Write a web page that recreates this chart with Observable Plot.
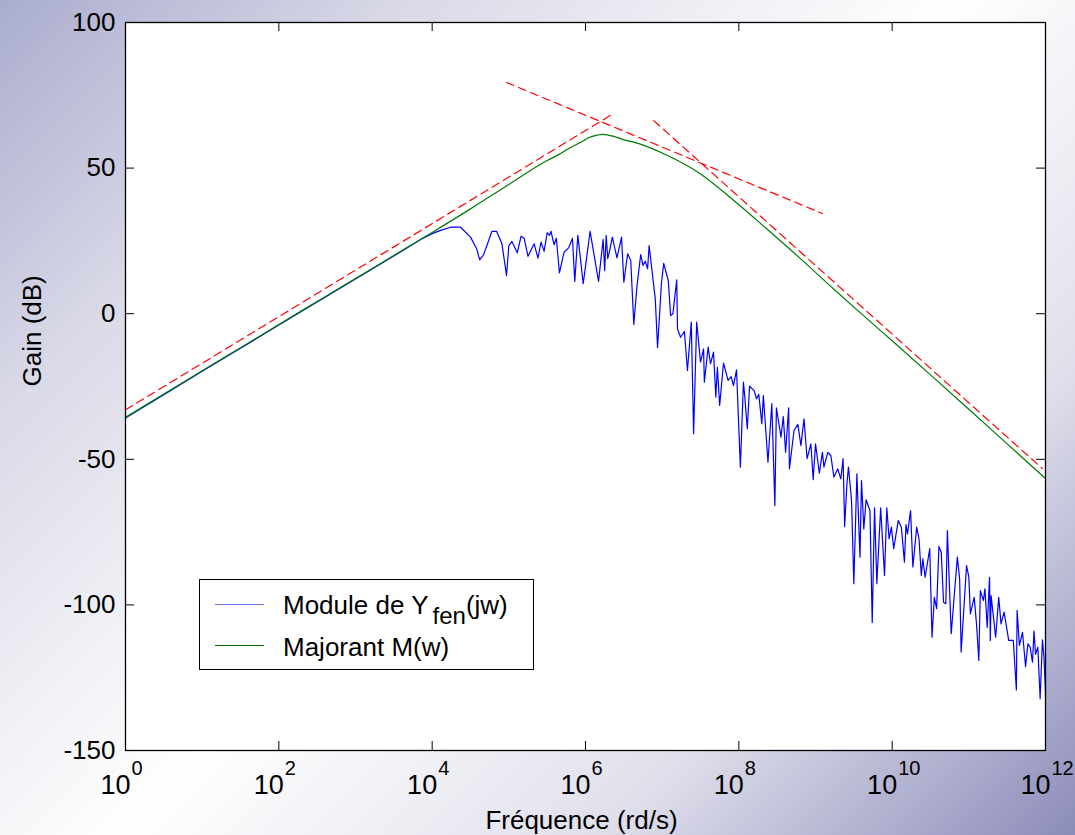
<!DOCTYPE html>
<html>
<head>
<meta charset="utf-8">
<script src="https://cdn.jsdelivr.net/npm/d3@7"></script>
<script src="https://cdn.jsdelivr.net/npm/@observablehq/plot@0.6"></script>
<style>
html, body { margin: 0; padding: 0; }
body { width: 1075px; height: 835px; overflow: hidden; font-family: "Liberation Sans", Arial, sans-serif; }
#wrap {
  position: relative; width: 1075px; height: 835px;
  background: linear-gradient(135deg, #aaacce 0%, #dadae8 22%, #ffffff 50%, #e0e0ec 75%, #8c8cba 100%);
}
#chart svg { display: block; }
#legend {
  position: absolute; left: 199px; top: 579px; width: 335px; height: 91px;
  box-sizing: border-box; background: #fff; border: 1px solid #000;
  font-size: 26px; color: #000; line-height: 26px;
}
#legend .sw { position: absolute; left: 15px; width: 49px; height: 0; }
#legend .lb { position: absolute; left: 83px; white-space: nowrap; }
#legend sub { font-size: 24px; vertical-align: baseline; position: relative; top: 10px; margin-left: 4px; }
</style>
</head>
<body>
<div id="wrap">
  <div id="chart"></div>
  <div id="legend">
    <div class="sw" style="top:24px;border-top:1.5px solid #7070ff;"></div>
    <div class="lb" style="top:12px;">Module de Y<sub>fen</sub>(jw)</div>
    <div class="sw" style="top:65px;border-top:1.5px solid #007000;"></div>
    <div class="lb" style="top:54px;">Majorant M(w)</div>
  </div>
</div>
<script>
// ---- data (frequency given as log10 of w in rd/s, gain in dB) ----
const xTickExponents = [0, 2, 4, 6, 8, 10, 12];
const yTicks = [-150, -100, -50, 0, 50, 100];

// Majorant M(w)
const greenLogW = [0, 0.5, 1, 1.5, 2, 2.5, 3, 3.5, 4, 4.5, 5, 5.5, 5.67, 5.8, 5.94, 6.04, 6.15, 6.22, 6.37, 6.5, 6.63, 7.07, 7.5, 7.935, 8.37, 8.8, 9.24, 9.59, 10, 10.5, 11, 11.5, 12];
const greenGain = [-35.6, -27.6, -19.6, -11.7, -3.7, 4.2, 12.1, 20.0, 27.9, 36.0, 44.4, 52.6, 54.9, 57.0, 58.9, 60.4, 61.3, 61.6, 60.9, 59.7, 58.9, 54.3, 48.0, 38.9, 29.0, 19.0, 8.4, 0.2, -9.3, -21.0, -32.8, -44.7, -56.6];

// Module de Yfen(jw)
const blueLogW = [0, 0.5, 1, 1.5, 2, 2.5, 3, 3.5, 3.85, 4.0, 4.11, 4.24, 4.37, 4.5, 4.58, 4.62, 4.67, 4.78, 4.84, 4.91, 4.97, 5.0, 5.04, 5.11, 5.16, 5.2, 5.25, 5.33, 5.38, 5.42, 5.46, 5.5, 5.53, 5.55, 5.59, 5.62, 5.66, 5.72, 5.78, 5.83, 5.86, 5.9, 5.97, 6.06, 6.17, 6.23, 6.25, 6.27, 6.29, 6.32, 6.35, 6.41, 6.47, 6.5, 6.55, 6.59, 6.63, 6.67, 6.72, 6.75, 6.78, 6.81, 6.83, 6.91, 6.94, 6.99, 7.02, 7.08, 7.11, 7.14, 7.19, 7.2, 7.24, 7.29, 7.33, 7.38, 7.41, 7.45, 7.5, 7.54, 7.55, 7.6, 7.63, 7.67, 7.7, 7.72, 7.75, 7.8, 7.86, 7.9, 7.93, 7.97, 8.02, 8.06, 8.08, 8.11, 8.14, 8.2, 8.23, 8.26, 8.3, 8.32, 8.38, 8.43, 8.47, 8.49, 8.55, 8.58, 8.61, 8.65, 8.66, 8.72, 8.77, 8.81, 8.85, 8.89, 8.94, 8.97, 9.0, 9.05, 9.09, 9.11, 9.16, 9.2, 9.24, 9.29, 9.33, 9.36, 9.38, 9.41, 9.43, 9.47, 9.5, 9.54, 9.58, 9.6, 9.63, 9.66, 9.71, 9.74, 9.77, 9.8, 9.85, 9.9, 9.93, 9.96, 9.99, 10.02, 10.08, 10.12, 10.16, 10.18, 10.2, 10.24, 10.27, 10.32, 10.35, 10.38, 10.4, 10.43, 10.49, 10.52, 10.55, 10.58, 10.61, 10.64, 10.67, 10.7, 10.72, 10.77, 10.85, 10.88, 10.9, 10.97, 11.0, 11.02, 11.07, 11.1, 11.13, 11.15, 11.19, 11.21, 11.24, 11.27, 11.28, 11.29, 11.35, 11.39, 11.42, 11.46, 11.52, 11.58, 11.62, 11.63, 11.66, 11.7, 11.74, 11.77, 11.8, 11.83, 11.85, 11.87, 11.9, 11.93, 11.96, 11.98, 12.0];
const blueGain = [-35.8, -27.8, -19.8, -11.9, -3.9, 4.0, 11.9, 19.8, 25.5, 27.5, 28.6, 29.7, 29.7, 26.3, 22.3, 18.5, 20.2, 28.3, 28.3, 24.0, 13.1, 23.4, 24.8, 20.9, 26.6, 25.9, 19.7, 24.0, 19.1, 24.6, 21.4, 27.8, 26.9, 28.3, 23.7, 25.9, 14.0, 21.1, 22.6, 25.9, 11.1, 26.9, 10.3, 28.3, 11.1, 25.5, 14.8, 26.9, 18.9, 22.3, 26.3, 19.2, 26.3, 10.8, 20.6, 18.3, -3.7, 9.1, 20.3, 16.6, 18.0, 15.4, 23.4, 5.1, -11.7, 10.3, 17.3, 11.4, -0.6, 0.0, 11.6, -5.2, -8.1, -6.1, -19.5, -2.9, -41.2, -2.9, -16.6, -12.1, -23.5, -11.5, -17.2, -13.2, -28.7, -18.4, -31.5, -17.0, -22.9, -21.6, -24.7, -19.3, -52.7, -23.5, -29.2, -39.5, -24.9, -26.4, -29.2, -27.7, -37.8, -28.1, -51.0, -30.9, -65.9, -32.3, -42.4, -35.3, -47.6, -32.3, -53.3, -40.1, -38.0, -45.3, -36.1, -49.8, -44.7, -57.0, -44.7, -54.8, -47.6, -52.7, -47.6, -48.7, -56.1, -53.3, -56.7, -49.8, -73.1, -58.4, -52.7, -64.1, -92.7, -55.0, -83.6, -57.3, -73.9, -63.9, -67.6, -106.0, -66.7, -92.7, -66.7, -89.9, -66.7, -77.3, -73.3, -80.7, -71.0, -73.3, -85.3, -72.4, -75.6, -67.6, -87.0, -73.3, -77.3, -89.9, -84.2, -90.5, -80.7, -111.1, -97.4, -101.3, -79.9, -81.9, -99.1, -99.6, -74.5, -109.9, -83.6, -91.0, -116.2, -86.5, -90.5, -103.1, -97.4, -106.5, -119.1, -95.1, -98.5, -94.5, -107.7, -90.5, -112.2, -96.8, -111.1, -97.4, -106.5, -102.5, -112.2, -112.2, -129.2, -101.9, -113.9, -109.4, -121.2, -113.4, -114.5, -119.7, -109.0, -117.0, -114.5, -132.2, -112.0, -118.0, -130.0];

// Asymptotes (red dashed)
const asymRiseLogW = [0, 6.365];
const asymRiseGain = [-33.0, 68.75];
const asymMidLogW = [4.97, 9.09];
const asymMidGain = [79.4, 34.4];
const asymFallLogW = [6.89, 11.96];
const asymFallGain = [66.3, -53.2];

// ---- build tables ----
const toRows = (lw, g, id) => lw.map((l, i) => ({w: 10 ** l, g: g[i], id}));
const green = toRows(greenLogW, greenGain, "M");
const blue = toRows(blueLogW, blueGain, "Y");
const asym = [
  ...toRows(asymRiseLogW, asymRiseGain, "a1"),
  ...toRows(asymMidLogW, asymMidGain, "a2"),
  ...toRows(asymFallLogW, asymFallGain, "a3")
];
const xTickValues = xTickExponents.map(e => 10 ** e);

const W = 1075, H = 835;
const mTop = 22, mRight = 30, mBottom = 85, mLeft = 125;
const tick = 9;

const chart = Plot.plot({
  width: W, height: H,
  marginTop: mTop, marginRight: mRight, marginBottom: mBottom, marginLeft: mLeft,
  style: {fontFamily: "'Liberation Sans', Arial, sans-serif", fontSize: "26px", background: "transparent", color: "#000", overflow: "visible"},
  x: {type: "log", domain: [1, 1e12], axis: null},
  y: {domain: [-150, 100], axis: null},
  marks: [
    Plot.frame({fill: "white", stroke: null}),
    Plot.line(blue, {x: "w", y: "g", stroke: "#0000ff", strokeWidth: 1.2}),
    Plot.line(green, {x: "w", y: "g", stroke: "#007a00", strokeWidth: 1.2, curve: "monotone-x"}),
    Plot.line(asym, {x: "w", y: "g", z: "id", stroke: "#ff0000", strokeWidth: 1.2, strokeDasharray: "8,5"}),
    Plot.frame({stroke: "#000", strokeWidth: 1.3}),
    // inward ticks
    Plot.tickX(xTickValues, {x: d => d, stroke: "#000", insetTop: H - mTop - mBottom - tick}),
    Plot.tickX(xTickValues, {x: d => d, stroke: "#000", insetBottom: H - mTop - mBottom - tick}),
    Plot.tickY(yTicks, {y: d => d, stroke: "#000", insetRight: W - mLeft - mRight - tick}),
    Plot.tickY(yTicks, {y: d => d, stroke: "#000", insetLeft: W - mLeft - mRight - tick}),
    // y tick labels
    Plot.text(yTicks, {y: d => d, text: d => String(d), frameAnchor: "left", textAnchor: "end", dx: -10, fontSize: 26}),
    // x tick labels 10^n
    Plot.text(xTickExponents, {x: e => 10 ** e, text: () => "10", frameAnchor: "bottom", lineAnchor: "bottom", textAnchor: "end", dx: 5, dy: 43, fontSize: 27}),
    Plot.text(xTickExponents, {x: e => 10 ** e, text: e => String(e), frameAnchor: "bottom", lineAnchor: "bottom", textAnchor: "start", dx: 6, dy: 24, fontSize: 20}),
    // axis titles
    Plot.text(["Fréquence (rd/s)"], {text: d => d, frameAnchor: "bottom", lineAnchor: "bottom", dx: -4, dy: 78, fontSize: 26}),
    Plot.text(["Gain (dB)"], {text: d => d, frameAnchor: "left", lineAnchor: "bottom", rotate: -90, dx: -85, fontSize: 26})
  ]
});
document.getElementById("chart").appendChild(chart);
</script>
</body>
</html>
